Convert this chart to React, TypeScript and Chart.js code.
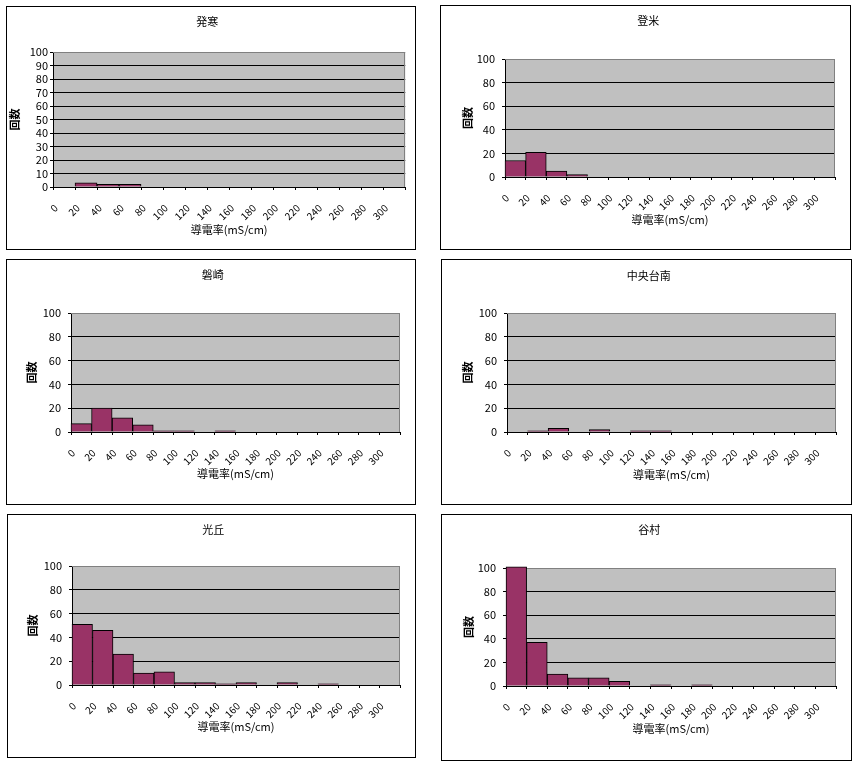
import React, { useEffect, useRef } from "react";
import { Chart, registerables } from "chart.js";

Chart.register(...registerables);

// ---- data ----
const categories = ["0", "20", "40", "60", "80", "100", "120", "140", "160", "180", "200", "220", "240", "260", "280", "300"];

const hassamu = [0, 3, 2, 2, 0, 0, 0, 0, 0, 0, 0, 0, 0, 0, 0, 0];
const tome = [14, 21, 5, 2, 0, 0, 0, 0, 0, 0, 0, 0, 0, 0, 0, 0];
const iwasaki = [7, 20, 12, 6, 1, 1, 0, 1, 0, 0, 0, 0, 0, 0, 0, 0];
const chuoDainan = [0, 1, 3, 0, 2, 0, 1, 1, 0, 0, 0, 0, 0, 0, 0, 0];
const mitsuoka = [51, 46, 26, 10, 11, 2, 2, 1, 2, 0, 2, 0, 1, 0, 0, 0];
const tanimura = [101, 37, 10, 7, 7, 4, 0, 1, 0, 1, 0, 0, 0, 0, 0, 0];

const panelTitles = ["発寒", "登米", "磐崎", "中央台南", "光丘", "谷村"];
const panelSeries = [hassamu, tome, iwasaki, chuoDainan, mitsuoka, tanimura];
const yStepSizes = [10, 20, 20, 20, 20, 20];
const yMax = 100;

const xAxisTitle = "導電率(mS/cm)";
const yAxisTitle = "回数";

// ---- layout (page coordinates) ----
type Layout = {
  box: [number, number, number, number]; // left, top, right, bottom (border lines)
  plot: [number, number, number, number]; // left, top, right, bottom
  titleY: number;
  xTitleY: number;
  yTitleX: number;
  yLabelGap: number;
};

const layouts: Layout[] = [
  { box: [6, 6, 415, 249], plot: [53, 52, 406, 187], titleY: 21.5, xTitleY: 230, yTitleX: 15, yLabelGap: 2 },
  { box: [440, 5, 850, 249], plot: [505, 59, 835, 177], titleY: 21, xTitleY: 220, yTitleX: 468, yLabelGap: 7 },
  { box: [6, 259, 415, 504], plot: [71, 313, 400, 432], titleY: 275, xTitleY: 474, yTitleX: 32, yLabelGap: 7 },
  { box: [441, 259, 851, 504], plot: [507, 313, 836, 432], titleY: 276, xTitleY: 475, yTitleX: 468, yLabelGap: 7 },
  { box: [7, 514, 415, 757], plot: [72, 566, 400, 685], titleY: 530, xTitleY: 727, yTitleX: 33, yLabelGap: 7 },
  { box: [441, 514, 851, 760], plot: [506, 568, 836, 686], titleY: 530, xTitleY: 729, yTitleX: 469, yLabelGap: 7 },
];

const FONT = '"Noto Sans CJK JP", "DejaVu Sans", sans-serif';
const FS = 11;
const LH = FS * 1.2;

const plotBgPlugin = {
  id: "plotBg",
  beforeDraw(chart: any) {
    const { ctx, chartArea: a } = chart;
    ctx.save();
    ctx.fillStyle = "#c0c0c0";
    ctx.fillRect(a.left, a.top, a.right - a.left, a.bottom - a.top);
    ctx.restore();
  },
  beforeDatasetsDraw(chart: any) {
    const { ctx, chartArea: a } = chart;
    ctx.save();
    ctx.strokeStyle = "#808080";
    ctx.lineWidth = 1;
    ctx.beginPath();
    const x = Math.round(a.right) - 0.5;
    ctx.moveTo(a.left, Math.round(a.top) + 0.5);
    ctx.lineTo(x, Math.round(a.top) + 0.5);
    ctx.lineTo(x, a.bottom);
    ctx.stroke();
    ctx.restore();
  },
};

function Panel({ index }: { index: number }) {
  const ref = useRef<HTMLCanvasElement | null>(null);
  const lay = layouts[index];
  const [bl, bt, br, bb] = lay.box;
  const ox = bl + 1;
  const oy = bt + 1;
  const W = br - bl - 1;
  const H = bb - bt - 1;

  useEffect(() => {
    if (!ref.current) return;
    const L = lay.plot[0] - ox;
    const T = lay.plot[1] - oy;
    const R = lay.plot[2] - ox;
    const B = lay.plot[3] - oy;
    const titleY = lay.titleY - oy;
    const xTitleY = lay.xTitleY - oy;
    const yTitleX = lay.yTitleX - ox;
    const padLeft = yTitleX - LH / 2;
    const xBottom = xTitleY + LH / 2;

    const chart = new Chart(ref.current, {
      type: "bar",
      data: {
        labels: categories,
        datasets: [
          {
            data: panelSeries[index],
            backgroundColor: "#993366",
            borderColor: "#000000",
            borderWidth: 1,
            barPercentage: 1,
            categoryPercentage: 1,
            clip: false as any,
          },
        ],
      },
      plugins: [plotBgPlugin],
      options: {
        animation: false,
        responsive: false,
        maintainAspectRatio: false,
        layout: {
          padding: { left: padLeft, top: 0, right: W - R, bottom: H - xBottom },
        },
        plugins: {
          legend: { display: false },
          tooltip: { enabled: false },
          title: {
            display: true,
            text: panelTitles[index],
            color: "#000",
            font: { family: FONT, size: FS, weight: "normal" as any, lineHeight: 1.2 },
            padding: { top: titleY - LH / 2, bottom: T - titleY - LH / 2 },
          },
        },
        scales: {
          x: {
            afterFit(scale: any) {
              scale.height = xBottom - B;
            },
            grid: {
              display: true,
              drawOnChartArea: false,
              drawTicks: true,
              offset: true,
              tickLength: 3,
              color: "#000",
            },
            border: { display: true, color: "#000", width: 1 },
            ticks: {
              color: "#000",
              font: { family: FONT, size: 10 },
              minRotation: 45,
              maxRotation: 45,
              autoSkip: false,
              labelOffset: -8,
              padding: 12,
            },
            title: {
              display: true,
              text: xAxisTitle,
              color: "#000",
              font: { family: FONT, size: FS, lineHeight: 1.2 },
              padding: 0,
            },
          },
          y: {
            min: 0,
            max: yMax,
            afterFit(scale: any) {
              scale.width = L - padLeft;
            },
            grid: {
              color: (c: any) => (c.tick && c.tick.value === yMax ? "#808080" : "#000"),
              tickColor: "#000",
              tickLength: 3,
              lineWidth: 1,
            },
            border: { display: true, color: "#000", width: 1 },
            ticks: {
              stepSize: yStepSizes[index],
              autoSkip: false,
              color: "#000",
              font: { family: FONT, size: FS },
              padding: lay.yLabelGap,
            },
            title: {
              display: true,
              text: yAxisTitle,
              color: "#000",
              font: { family: FONT, size: FS, weight: "bold" as any, lineHeight: 1.2 },
              padding: 0,
            },
          },
        },
      },
    });
    return () => chart.destroy();
  }, [index]);

  return (
    <div
      style={{
        position: "absolute",
        left: bl,
        top: bt,
        width: W,
        height: H,
        border: "1px solid #000",
        background: "#fff",
      }}
    >
      <canvas ref={ref} width={W} height={H} style={{ width: W, height: H, display: "block" }} />
    </div>
  );
}

export default function App() {
  return (
    <div style={{ position: "absolute", left: 0, top: 0, width: 857, height: 765, background: "#fff" }}>
      {panelTitles.map((_, i) => (
        <Panel key={i} index={i} />
      ))}
    </div>
  );
}
